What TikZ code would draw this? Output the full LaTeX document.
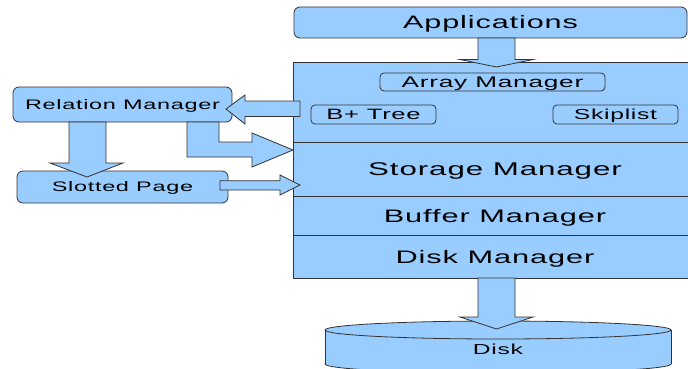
\documentclass[tikz,border=0pt]{standalone}
\usepackage{fontspec}
\newfontfamily\labfont[FakeStretch=1.7,LetterSpace=5]{Liberation Sans}
\definecolor{boxC}{HTML}{99CCFF}
\definecolor{lineC}{HTML}{333333}
\tikzset{
  base/.style={draw=lineC, fill=boxC, line width=0.8pt, inner sep=0pt, text depth=0pt},
  rbox/.style={base, rounded corners=6pt},
  sbox/.style={base, rounded corners=4pt},
  section/.style={base, sharp corners},
  fs/.style={font=\labfont\fontsize{#1pt}{#1pt}\selectfont},
  blockarrow/.style={draw=lineC, fill=boxC, line width=0.8pt, line join=miter},
}
\begin{document}
\begin{tikzpicture}[x=1pt,y=-1pt]
\useasboundingbox (0,0) rectangle (688,369);
\fill[white] (0,0) rectangle (688,369);
\clip (0,0) rectangle (688,369);

% main stack
\node[section, minimum width=404pt, minimum height=80pt] (top) at (495,102) {};
\node[section, minimum width=404pt, minimum height=54pt, fs=18.4, text height=13.2pt] (storage) at (495,169) {Storage Manager};
\node[section, minimum width=404pt, minimum height=39pt, fs=18.1, text height=13pt] (buffer) at (495,215.5) {Buffer Manager};
\node[section, minimum width=404pt, minimum height=43pt, fs=18.1, text height=13pt] (diskmgr) at (495,256.5) {Disk Manager};

% inner boxes
\node[sbox, minimum width=225pt, minimum height=18pt, fs=15.4, text height=11pt] (array) at (492.5,82) {Array Manager};
\node[sbox, minimum width=125pt, minimum height=19pt, fs=15, text height=10.7pt] (bplus) at (373.5,114.5) {B+ Tree};
\node[sbox, minimum width=125pt, minimum height=19pt, fs=14.5, text height=10.4pt] (skip) at (615.5,114.5) {Skiplist};

% top box
\node[rbox, minimum width=393pt, minimum height=31pt, fs=18, text height=12.9pt] (apps) at (490.5,22.5) {Applications};

% left boxes
\node[rbox, minimum width=219pt, minimum height=35pt, fs=13.8, text height=9.9pt] (rel) at (122.5,104.5) {Relation Manager};
\node[rbox, minimum width=211pt, minimum height=32pt, fs=13.8, text height=9.9pt] (slot) at (122.5,187) {Slotted Page};

% disk cylinder
\filldraw[draw=lineC, fill=boxC, line width=0.8pt] (498,364) ellipse [x radius=173, y radius=9];
\fill[boxC] (325,330) rectangle (671,364);
\draw[lineC, line width=0.8pt] (325,330) -- (325,364) (671,330) -- (671,364);
\filldraw[draw=lineC, fill=boxC, line width=0.8pt] (498,330) ellipse [x radius=173, y radius=9];
\node[inner sep=0pt, text depth=0pt, fs=14.5, text height=10.4pt] (disk) at (498,349.6) {Disk};

% block arrows
\draw[blockarrow] (478,38) -- (478,59.5) -- (460,59.5) -- (496.5,67) -- (533,59.5) -- (515,59.5) -- (515,38) -- cycle;
\draw[blockarrow] (478,278) -- (478,317) -- (460,317) -- (496.5,329) -- (533,317) -- (515,317) -- (515,278) -- cycle;
\draw[blockarrow] (300,101) -- (245,101) -- (245,95) -- (226,109) -- (245,124) -- (245,116.5) -- (300,116.5) -- cycle;
\draw[blockarrow] (187,122) -- (187,157) -- (252,157) -- (252,167) -- (293,150) -- (252,133) -- (252,142) -- (219,142) -- (219,122) -- cycle;
\draw[blockarrow] (69,122) -- (69,163) -- (50,163) -- (87,177) -- (123,163) -- (106,163) -- (106,122) -- cycle;
\draw[blockarrow] (220,180.7) -- (280,180.7) -- (280,175) -- (300,185) -- (280,195) -- (280,190) -- (220,190) -- cycle;
\end{tikzpicture}
\end{document}
